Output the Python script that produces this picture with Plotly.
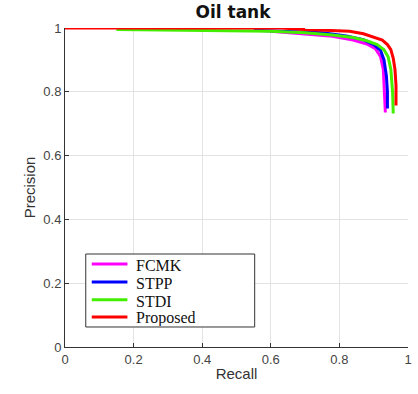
import plotly.graph_objects as go

# Data
fcmk_recall = [0.60, 0.70, 0.78, 0.84, 0.88, 0.905, 0.92, 0.928, 0.932, 0.934]
fcmk_prec = [0.990, 0.982, 0.974, 0.962, 0.950, 0.935, 0.910, 0.870, 0.800, 0.735]

stpp_recall = [0.55, 0.65, 0.75, 0.82, 0.87, 0.90, 0.92, 0.93, 0.937, 0.940, 0.940]
stpp_prec = [0.993, 0.990, 0.985, 0.975, 0.963, 0.948, 0.930, 0.900, 0.850, 0.800, 0.748]

stdi_recall = [0.15, 0.40, 0.60, 0.70, 0.78, 0.84, 0.88, 0.91, 0.93, 0.942, 0.950, 0.955, 0.957]
stdi_prec = [0.995, 0.993, 0.990, 0.985, 0.978, 0.970, 0.960, 0.948, 0.932, 0.910, 0.870, 0.800, 0.732]

prop_recall = [0.0, 0.63, 0.70, 0.78, 0.83, 0.87, 0.90, 0.925, 0.94, 0.95, 0.957, 0.962, 0.965, 0.965]
prop_prec = [1.0, 1.0, 0.995, 0.993, 0.990, 0.982, 0.972, 0.962, 0.948, 0.932, 0.905, 0.870, 0.820, 0.757]

series_names = ["FCMK", "STPP", "STDI", "Proposed"]
x_ticks = [0, 0.2, 0.4, 0.6, 0.8, 1]
y_ticks = [0, 0.2, 0.4, 0.6, 0.8, 1]

colors = ["#ff00ff", "#0000ff", "#44ee00", "#ff0000"]
data = [(fcmk_recall, fcmk_prec), (stpp_recall, stpp_prec),
        (stdi_recall, stdi_prec), (prop_recall, prop_prec)]

fig = go.Figure()
for name, (xs, ys), col in zip(series_names, data, colors):
    fig.add_trace(go.Scatter(x=xs, y=ys, mode="lines", name=name, showlegend=False,
                             line=dict(color=col, width=3)))

axis_common = dict(
    showgrid=True, gridcolor="#e3e3e3", gridwidth=1,
    showline=True, linecolor="#333333", linewidth=1,
    ticks="inside", ticklen=4, tickcolor="#333333",
    tickfont=dict(family="Liberation Sans, Arial", size=13, color="#444444"),
    zeroline=False, mirror=False,
)

# Custom legend box (MATLAB-style, compact rows)
shapes = [dict(type="rect", xref="paper", yref="paper",
               x0=0.0605, x1=0.553, y0=0.0627, y1=0.2915,
               line=dict(color="#333333", width=1), fillcolor="white", layer="above")]
annotations = []
row_y = [0.260, 0.204, 0.148, 0.094]
for name, col, ry in zip(series_names, colors, row_y):
    shapes.append(dict(type="line", xref="paper", yref="paper",
                       x0=0.078, x1=0.182, y0=ry, y1=ry,
                       line=dict(color=col, width=3), layer="above"))
    annotations.append(dict(text=name, xref="paper", yref="paper",
                            x=0.205, y=ry - 0.004, xanchor="left", yanchor="middle",
                            showarrow=False, height=16, valign="middle", borderpad=0,
                            font=dict(family="Liberation Serif, Times New Roman",
                                      size=16, color="#111111")))

fig.update_layout(
    width=418, height=394,
    margin=dict(l=65, r=6, t=28, b=47),
    paper_bgcolor="white", plot_bgcolor="white",
    title=dict(text="<b>Oil tank</b>", x=233 / 418, xanchor="center",
               y=1 - 12 / 394, yanchor="middle",
               font=dict(family="DejaVu Sans", size=17, color="#111111")),
    xaxis=dict(range=[0, 1], tickvals=x_ticks, ticktext=[f"{v:g}" for v in x_ticks],
               title=dict(text="Recall", standoff=2,
                          font=dict(family="Liberation Sans, Arial", size=15, color="#333333")),
               **axis_common),
    yaxis=dict(range=[0, 1], tickvals=y_ticks, ticktext=[f"{v:g}" for v in y_ticks],
               title=dict(text="Precision", standoff=4,
                          font=dict(family="Liberation Sans, Arial", size=15, color="#333333")),
               **axis_common),
    shapes=shapes,
    annotations=annotations,
)

fig.write_html("out.html")
